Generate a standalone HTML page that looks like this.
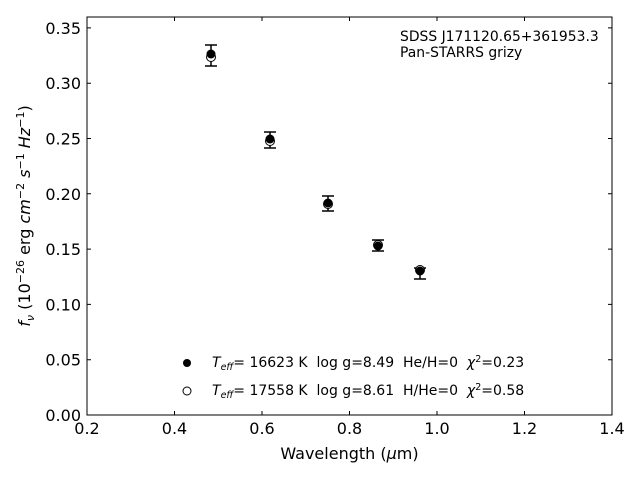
<!DOCTYPE html>
<html><head><style>body{margin:0;background:#fff}svg{display:block}text{white-space:pre}</style></head><body>
<svg width="640" height="480" xmlns="http://www.w3.org/2000/svg" font-family="DejaVu Sans, Liberation Sans, sans-serif" xml:space="preserve">
<rect width="640" height="480" fill="#fff"/>
<rect x="87" y="17" width="525" height="398" fill="none" stroke="#000" stroke-width="1"/>
<g stroke="#000" stroke-width="1">
<path d="M87 415v-4M174.5 415v-4M262 415v-4M349.5 415v-4M437 415v-4M524.5 415v-4M612 415v-4M87 17v4M174.5 17v4M262 17v4M349.5 17v4M437 17v4M524.5 17v4M612 17v4"/>
<path d="M87 415h4M87 359.7h4M87 304.4h4M87 249.1h4M87 193.8h4M87 138.5h4M87 83.2h4M87 27.9h4M612 415h-4M612 359.7h-4M612 304.4h-4M612 249.1h-4M612 193.8h-4M612 138.5h-4M612 83.2h-4M612 27.9h-4"/>
</g>
<g font-size="16" text-anchor="middle" fill="#000">
<text x="87" y="434">0.2</text><text x="174.5" y="434">0.4</text><text x="262" y="434">0.6</text><text x="349.5" y="434">0.8</text><text x="437" y="434">1.0</text><text x="524.5" y="434">1.2</text><text x="612" y="434">1.4</text>
</g>
<g font-size="16" text-anchor="end" fill="#000">
<text x="81" y="421">0.00</text><text x="81" y="365.7">0.05</text><text x="81" y="310.4">0.10</text><text x="81" y="255.1">0.15</text><text x="81" y="199.8">0.20</text><text x="81" y="144.5">0.25</text><text x="81" y="89.2">0.30</text><text x="81" y="33.9">0.35</text>
</g>
<text x="349.5" y="459" font-size="16" text-anchor="middle">Wavelength (<tspan font-style="italic">μ</tspan>m)</text>
<text transform="translate(30,216) rotate(-90)" font-size="16" text-anchor="middle"><tspan font-style="italic">f<tspan font-size="11" dy="4">ν</tspan></tspan><tspan dy="-4"> (10</tspan><tspan font-size="11" dy="-6">−26</tspan><tspan dy="6"> erg </tspan><tspan font-style="italic">cm</tspan><tspan font-size="11" dy="-6">−2</tspan><tspan dy="6" font-style="italic"> s</tspan><tspan font-size="11" dy="-6">−1</tspan><tspan dy="6" font-style="italic"> Hz</tspan><tspan font-size="11" dy="-6">−1</tspan><tspan dy="6">)</tspan></text>
<text x="400" y="41" font-size="13.9">SDSS J171120.65+361953.3</text>
<text x="400" y="57" font-size="13.9">Pan-STARRS grizy</text>
<g stroke="#000" stroke-width="1.5">
<path d="M211 45v21M205 45h12M205 66h12"/>
<path d="M270 132v16M264 132h12M264 148h12"/>
<path d="M328 196v15M322 196h12M322 211h12"/>
<path d="M378 240v11M372 240h12M372 251h12"/>
<path d="M420 268v11M414 268h12M414 279h12"/>
</g>
<g fill="#fff" stroke="#000" stroke-width="1">
<circle cx="211" cy="57" r="4.5"/><circle cx="270" cy="141" r="4.5"/><circle cx="328" cy="204" r="4.5"/><circle cx="378" cy="245" r="4.5"/><circle cx="420" cy="270" r="4.5"/>
</g>
<g fill="#000">
<circle cx="211" cy="54" r="4.5"/><circle cx="270" cy="139" r="4.5"/><circle cx="328" cy="203" r="4.5"/><circle cx="378" cy="246" r="4.5"/><circle cx="420" cy="271" r="4.5"/>
</g>
<circle cx="187" cy="363" r="4" fill="#000"/>
<circle cx="187" cy="391" r="4" fill="#fff" stroke="#000"/>
<g font-size="14">
<text x="212" y="367"><tspan font-style="italic">T<tspan font-size="9.5" dy="3">eff</tspan></tspan><tspan dy="-3">= 16623 K  log g=8.49  He/H=0  </tspan><tspan font-style="italic">χ</tspan><tspan font-size="9.5" dy="-5">2</tspan><tspan dy="5">=0.23</tspan></text>
<text x="212" y="395"><tspan font-style="italic">T<tspan font-size="9.5" dy="3">eff</tspan></tspan><tspan dy="-3">= 17558 K  log g=8.61  H/He=0  </tspan><tspan font-style="italic">χ</tspan><tspan font-size="9.5" dy="-5">2</tspan><tspan dy="5">=0.58</tspan></text>
</g>
</svg>
</body></html>
